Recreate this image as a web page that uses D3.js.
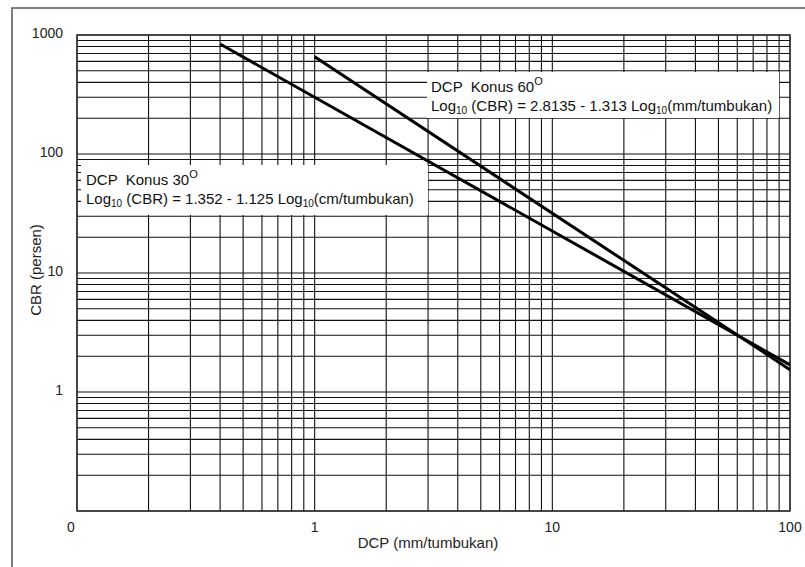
<!DOCTYPE html>
<html>
<head>
<meta charset="utf-8">
<script src="https://cdn.jsdelivr.net/npm/d3@7"></script>
<style>
  html, body { margin: 0; padding: 0; background: #fff; }
  svg { display: block; font-family: "Liberation Sans", Arial, sans-serif; }
</style>
</head>
<body>
<svg id="chart" width="805" height="567"></svg>
<script>
// chart data
const dcpDomain = [0.1, 100];
const cbrDomain = [0.1, 1000];
const xTickValues = [0.1, 1, 10, 100];
const xTickLabels = ['0', '1', '10', '100'];
const yTickValues = [1, 10, 100, 1000];
const yTickLabels = ['1', '10', '100', '1000'];

// lines: [DCP mm/tumbukan, CBR %]
const konus30 = [[0.4, 840], [100, 1.69]];
const konus60 = [[1, 655], [100, 1.54]];

const xTitle = 'DCP (mm/tumbukan)';
const yTitle = 'CBR (persen)';

const svg = d3.select('#chart');
const plotLeft = 77, plotRight = 790, plotTop = 35, plotBottom = 511;

const x = d3.scaleLog().domain(dcpDomain).range([plotLeft, plotRight]);
const y = d3.scaleLog().domain(cbrDomain).range([plotBottom, plotTop]);

// page frame
svg.append('path')
  .attr('d', 'M12,567 V8 H805')
  .attr('fill', 'none')
  .attr('stroke', '#555')
  .attr('stroke-width', 1.5);

// grid
const grid = svg.append('g');
grid.selectAll('line.vx')
  .data(x.ticks())
  .enter()
  .append('line')
  .attr('class', 'vx')
  .attr('x1', d => x(d))
  .attr('x2', d => x(d))
  .attr('y1', plotTop)
  .attr('y2', plotBottom)
  .attr('stroke', '#111')
  .attr('stroke-width', 1.1);

grid.selectAll('line.hy')
  .data(y.ticks())
  .enter()
  .append('line')
  .attr('class', 'hy')
  .attr('x1', plotLeft)
  .attr('x2', plotRight)
  .attr('y1', d => y(d))
  .attr('y2', d => y(d))
  .attr('stroke', '#111')
  .attr('stroke-width', 1.1);

// plot border
svg.append('rect')
  .attr('x', plotLeft)
  .attr('y', plotTop)
  .attr('width', plotRight - plotLeft)
  .attr('height', plotBottom - plotTop)
  .attr('fill', 'none')
  .attr('stroke', '#333')
  .attr('stroke-width', 1.5);

// axis labels
svg.selectAll('text.xl')
  .data(xTickValues)
  .enter()
  .append('text')
  .attr('class', 'xl')
  .attr('x', (d, i) => x(d) + (i === 0 ? -6 : 0))
  .attr('y', plotBottom + 21)
  .attr('text-anchor', 'middle')
  .attr('font-size', '14px')
  .attr('fill', '#222')
  .text((d, i) => xTickLabels[i]);

svg.selectAll('text.yl')
  .data(yTickValues)
  .enter()
  .append('text')
  .attr('class', 'yl')
  .attr('x', 63)
  .attr('y', d => y(d) + 3)
  .attr('text-anchor', 'end')
  .attr('font-size', '14px')
  .attr('fill', '#222')
  .text((d, i) => yTickLabels[i]);

svg.append('text')
  .attr('x', 428)
  .attr('y', 548)
  .attr('text-anchor', 'middle')
  .attr('font-size', '15px')
  .attr('fill', '#222')
  .text(xTitle);

svg.append('text')
  .attr('transform', 'translate(41,270) rotate(-90)')
  .attr('text-anchor', 'middle')
  .attr('font-size', '15px')
  .attr('fill', '#222')
  .text(yTitle);

// lines
const line = d3.line().x(d => x(d[0])).y(d => y(d[1]));
[konus30, konus60].forEach(s => {
  svg.append('path')
    .datum(s)
    .attr('d', line)
    .attr('fill', 'none')
    .attr('stroke', '#000')
    .attr('stroke-width', 3);
});

// annotation boxes
function note(bx, by, bw, bh, tx, ty, angle, unit, a, b) {
  svg.append('rect')
    .attr('x', bx).attr('y', by)
    .attr('width', bw).attr('height', bh)
    .attr('fill', '#fff');
  const t1 = svg.append('text')
    .attr('x', tx).attr('y', ty)
    .attr('font-size', '15px')
    .attr('fill', '#111')
    .style('white-space', 'pre');
  t1.append('tspan').text('DCP  Konus ' + angle);
  t1.append('tspan').attr('dy', -7).attr('font-size', '11px').text('O');

  const t2 = svg.append('text')
    .attr('x', tx).attr('y', ty + 19)
    .attr('font-size', '15px')
    .attr('fill', '#111');
  t2.append('tspan').text('Log');
  t2.append('tspan').attr('dy', 3).attr('font-size', '10px').text('10');
  t2.append('tspan').attr('dy', -3).text(' (CBR) = ' + a + ' - ' + b + ' Log');
  t2.append('tspan').attr('dy', 3).attr('font-size', '10px').text('10');
  t2.append('tspan').attr('dy', -3).text('(' + unit + '/tumbukan)');
}

note(427, 72, 352, 46, 431, 92, '60', 'mm', '2.8135', '1.313');
note(81, 165, 347, 50, 86, 185, '30', 'cm', '1.352', '1.125');
</script>
</body>
</html>
